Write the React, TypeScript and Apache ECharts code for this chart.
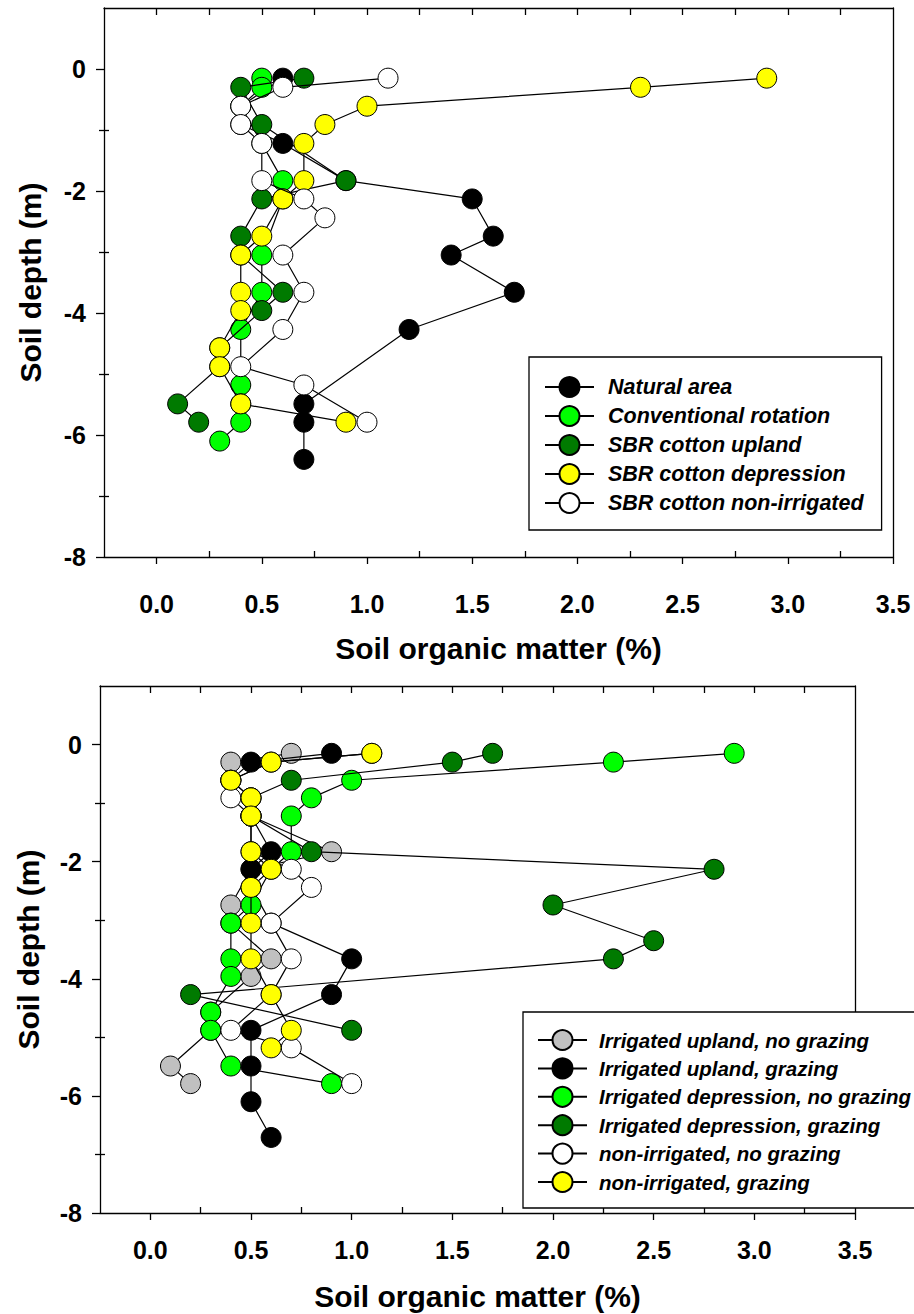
import React, { useEffect, useRef } from 'react';
import * as echarts from 'echarts';

// ---------- axis ticks ----------
const xTickValues = [0, 0.5, 1, 1.5, 2, 2.5, 3, 3.5];
const xMinorValues = [0.25, 0.75, 1.25, 1.75, 2.25, 2.75, 3.25];
const xTopTickValues = [0, 0.25, 0.5, 0.75, 1, 1.25, 1.5, 1.75, 2, 2.25, 2.5, 2.75, 3, 3.25];
const yTickValues = [0, -2, -4, -6, -8];
const yMinorValues = [-1, -3, -5, -7];

const xTitle = 'Soil organic matter (%)';
const yTitle = 'Soil depth (m)';

// ---------- top panel: [soil organic matter %, depth m] ----------
const topNames = [
  'Natural area',
  'Conventional rotation',
  'SBR cotton upland',
  'SBR cotton depression',
  'SBR cotton non-irrigated',
];
const naturalArea = [
  [0.6, -0.15], [0.4, -0.61], [0.4, -0.91], [0.6, -1.22], [0.9, -1.83], [1.5, -2.13],
  [1.6, -2.74], [1.4, -3.05], [1.7, -3.66], [1.2, -4.27], [0.7, -5.49], [0.7, -5.79], [0.7, -6.4],
];
const conventionalRotation = [
  [0.5, -0.15], [0.5, -0.3], [0.4, -0.61], [0.5, -1.22], [0.6, -1.83], [0.6, -2.13],
  [0.5, -3.05], [0.5, -3.66], [0.4, -4.27], [0.4, -5.18], [0.4, -5.49], [0.4, -5.79], [0.3, -6.1],
];
const sbrUpland = [
  [0.7, -0.15], [0.4, -0.3], [0.5, -0.91], [0.9, -1.83], [0.5, -2.13], [0.4, -2.74], [0.4, -3.05],
  [0.6, -3.66], [0.5, -3.96], [0.3, -4.57], [0.3, -4.88], [0.1, -5.49], [0.2, -5.79],
];
const sbrDepression = [
  [2.9, -0.15], [2.3, -0.3], [1.0, -0.61], [0.8, -0.91], [0.7, -1.22], [0.7, -1.83], [0.6, -2.13],
  [0.5, -2.74], [0.4, -3.05], [0.4, -3.66], [0.4, -3.96], [0.3, -4.57], [0.3, -4.88], [0.4, -5.49], [0.9, -5.79],
];
const sbrNonIrrigated = [
  [1.1, -0.15], [0.6, -0.3], [0.4, -0.61], [0.4, -0.91], [0.5, -1.22], [0.5, -1.83], [0.7, -2.13],
  [0.8, -2.44], [0.6, -3.05], [0.7, -3.66], [0.6, -4.27], [0.4, -4.88], [0.7, -5.18], [1.0, -5.79],
];
const topData = [naturalArea, conventionalRotation, sbrUpland, sbrDepression, sbrNonIrrigated];
const topColors = ['#000000', '#00ff00', '#007a00', '#ffff00', '#ffffff'];

// ---------- bottom panel ----------
const bottomNames = [
  'Irrigated upland, no grazing',
  'Irrigated upland, grazing',
  'Irrigated depression, no grazing',
  'Irrigated depression, grazing',
  'non-irrigated, no grazing',
  'non-irrigated, grazing',
];
const irrUplandNoGraze = [
  [0.7, -0.15], [0.4, -0.3], [0.4, -0.61], [0.5, -0.91], [0.5, -1.22], [0.9, -1.83], [0.5, -2.13],
  [0.4, -2.74], [0.4, -3.05], [0.6, -3.66], [0.5, -3.96], [0.3, -4.57], [0.3, -4.88], [0.1, -5.49], [0.2, -5.79],
];
const irrUplandGraze = [
  [0.9, -0.15], [0.5, -0.3], [0.4, -0.61], [0.5, -1.22], [0.6, -1.83], [0.5, -2.13], [0.5, -2.44],
  [0.6, -3.05], [1.0, -3.66], [0.9, -4.27], [0.5, -4.88], [0.5, -5.49], [0.5, -6.1], [0.6, -6.71],
];
const irrDepressionNoGraze = [
  [2.9, -0.15], [2.3, -0.3], [1.0, -0.61], [0.8, -0.91], [0.7, -1.22], [0.7, -1.83], [0.6, -2.13],
  [0.5, -2.74], [0.4, -3.05], [0.4, -3.66], [0.4, -3.96], [0.3, -4.57], [0.3, -4.88], [0.4, -5.49], [0.9, -5.79],
];
const irrDepressionGraze = [
  [1.7, -0.15], [1.5, -0.3], [0.7, -0.61], [0.5, -0.91], [0.5, -1.22], [0.8, -1.83], [2.8, -2.13],
  [2.0, -2.74], [2.5, -3.35], [2.3, -3.66], [0.2, -4.27], [1.0, -4.88],
];
const nonIrrNoGraze = [
  [1.1, -0.15], [0.6, -0.3], [0.4, -0.61], [0.4, -0.91], [0.5, -1.22], [0.5, -1.83], [0.7, -2.13],
  [0.8, -2.44], [0.6, -3.05], [0.7, -3.66], [0.6, -4.27], [0.4, -4.88], [0.7, -5.18], [1.0, -5.79],
];
const nonIrrGraze = [
  [1.1, -0.15], [0.6, -0.3], [0.4, -0.61], [0.5, -0.91], [0.5, -1.22], [0.5, -1.83], [0.6, -2.13],
  [0.5, -2.44], [0.5, -3.05], [0.5, -3.66], [0.6, -4.27], [0.7, -4.88], [0.6, -5.18],
];
const bottomData = [irrUplandNoGraze, irrUplandGraze, irrDepressionNoGraze, irrDepressionGraze, nonIrrNoGraze, nonIrrGraze];
const bottomColors = ['#c0c0c0', '#000000', '#00ff00', '#007a00', '#ffffff', '#ffff00'];

const FONT = '"Liberation Sans", Arial, Helvetica, sans-serif';
const TICK_FONT = 25;
const TITLE_FONT = 30;

function axesFor(gi: number, xLabelMargin: number, xNameGap: number, yNameGap: number) {
  const lineStyle = { color: '#000', width: 1.3 };
  const line = { show: true, onZero: false, lineStyle };
  const noLine = { show: false, onZero: false };
  const base = { type: 'value', gridIndex: gi, min: -0.25, max: 3.5, splitLine: { show: false } };
  const ybase = { type: 'value', gridIndex: gi, min: -8, max: 1, splitLine: { show: false } };
  const xAxes = [
    {
      ...base,
      position: 'bottom',
      axisLine: line,
      axisTick: { show: true, inside: false, length: 7, customValues: xTickValues, lineStyle },
      axisLabel: {
        show: true, customValues: xTickValues, margin: xLabelMargin,
        formatter: (v: number) => v.toFixed(1),
        fontFamily: FONT, fontWeight: 'bold', fontSize: TICK_FONT, color: '#000',
      },
      name: xTitle, nameLocation: 'middle', nameGap: xNameGap,
      nameTextStyle: { fontFamily: FONT, fontWeight: 'bold', fontSize: TITLE_FONT, color: '#000' },
    },
    {
      ...base,
      position: 'bottom',
      axisLine: noLine,
      axisTick: { show: true, inside: true, length: 6, customValues: xMinorValues, lineStyle },
      axisLabel: { show: false },
    },
    {
      ...base,
      position: 'top',
      axisLine: line,
      axisTick: { show: true, inside: true, length: 7, customValues: xTopTickValues, lineStyle },
      axisLabel: { show: false },
    },
  ];
  const yAxes = [
    {
      ...ybase,
      position: 'left',
      axisLine: line,
      axisTick: { show: true, inside: false, length: 8, customValues: yTickValues, lineStyle },
      axisLabel: {
        show: true, customValues: yTickValues, margin: 18,
        formatter: (v: number) => String(v),
        fontFamily: FONT, fontWeight: 'bold', fontSize: TICK_FONT, color: '#000',
      },
      name: yTitle, nameLocation: 'middle', nameGap: yNameGap, nameRotate: 90,
      nameTextStyle: { fontFamily: FONT, fontWeight: 'bold', fontSize: TITLE_FONT, color: '#000' },
    },
    {
      ...ybase,
      position: 'left',
      axisLine: noLine,
      axisTick: { show: true, inside: false, length: 5, customValues: yMinorValues, lineStyle },
      axisLabel: { show: false },
    },
    {
      ...ybase,
      position: 'left',
      axisLine: noLine,
      axisTick: { show: true, inside: true, length: 5, customValues: yMinorValues, lineStyle },
      axisLabel: { show: false },
    },
    {
      ...ybase,
      position: 'right',
      axisLine: line,
      axisTick: { show: false },
      axisLabel: { show: false },
    },
  ];
  return { xAxes, yAxes };
}

function makeSeries(names: string[], data: number[][][], colors: string[], xIdx: number, yIdx: number) {
  return names.map((name, i) => ({
    type: 'line',
    name,
    xAxisIndex: xIdx,
    yAxisIndex: yIdx,
    data: data[i],
    z: 10 + i,
    symbol: 'circle',
    symbolSize: 20,
    showSymbol: true,
    itemStyle: { color: colors[i], borderColor: '#000', borderWidth: 1 },
    lineStyle: { color: '#000', width: 1.2 },
    emphasis: { disabled: true },
  }));
}

export default function App() {
  const ref = useRef<HTMLDivElement>(null);
  useEffect(() => {
    if (!ref.current) return;
    const chart = echarts.init(ref.current, undefined, { renderer: 'svg' });
    const a0 = axesFor(0, 34, 76, 59);
    const a1 = axesFor(1, 24, 68, 57);
    const legendText = { fontFamily: FONT, fontWeight: 'bold', fontStyle: 'italic', color: '#000' };
    const option: any = {
      animation: false,
      backgroundColor: '#fff',
      grid: [
        { left: 104, top: 8, width: 789, height: 549 },
        { left: 100, top: 686, width: 755, height: 527 },
      ],
      xAxis: [...a0.xAxes, ...a1.xAxes],
      yAxis: [...a0.yAxes, ...a1.yAxes],
      legend: [
        {
          data: topNames, orient: 'vertical', left: 529, top: 357,
          padding: [19, 18, 16, 15], itemWidth: 49, itemHeight: 25, itemGap: 7,
          borderColor: '#000', borderWidth: 1.3, backgroundColor: '#fff',
          textStyle: { ...legendText, fontSize: 21.5, padding: [0, 0, 0, 9] },
          selectedMode: false,
        },
        {
          data: bottomNames, orient: 'vertical', left: 523, top: 1012,
          padding: [17, 20, 15, 14], itemWidth: 49, itemHeight: 25, itemGap: 6.4,
          borderColor: '#000', borderWidth: 1.3, backgroundColor: '#fff',
          textStyle: { ...legendText, fontSize: 20.5, padding: [0, 0, 0, 7] },
          selectedMode: false,
        },
      ],
      series: [
        ...makeSeries(topNames, topData, topColors, 0, 0),
        ...makeSeries(bottomNames, bottomData, bottomColors, 3, 4),
      ],
    };
    chart.setOption(option);
    return () => chart.dispose();
  }, []);
  return <div ref={ref} style={{ position: 'absolute', left: 0, top: 0, width: 914, height: 1314 }} />;
}
